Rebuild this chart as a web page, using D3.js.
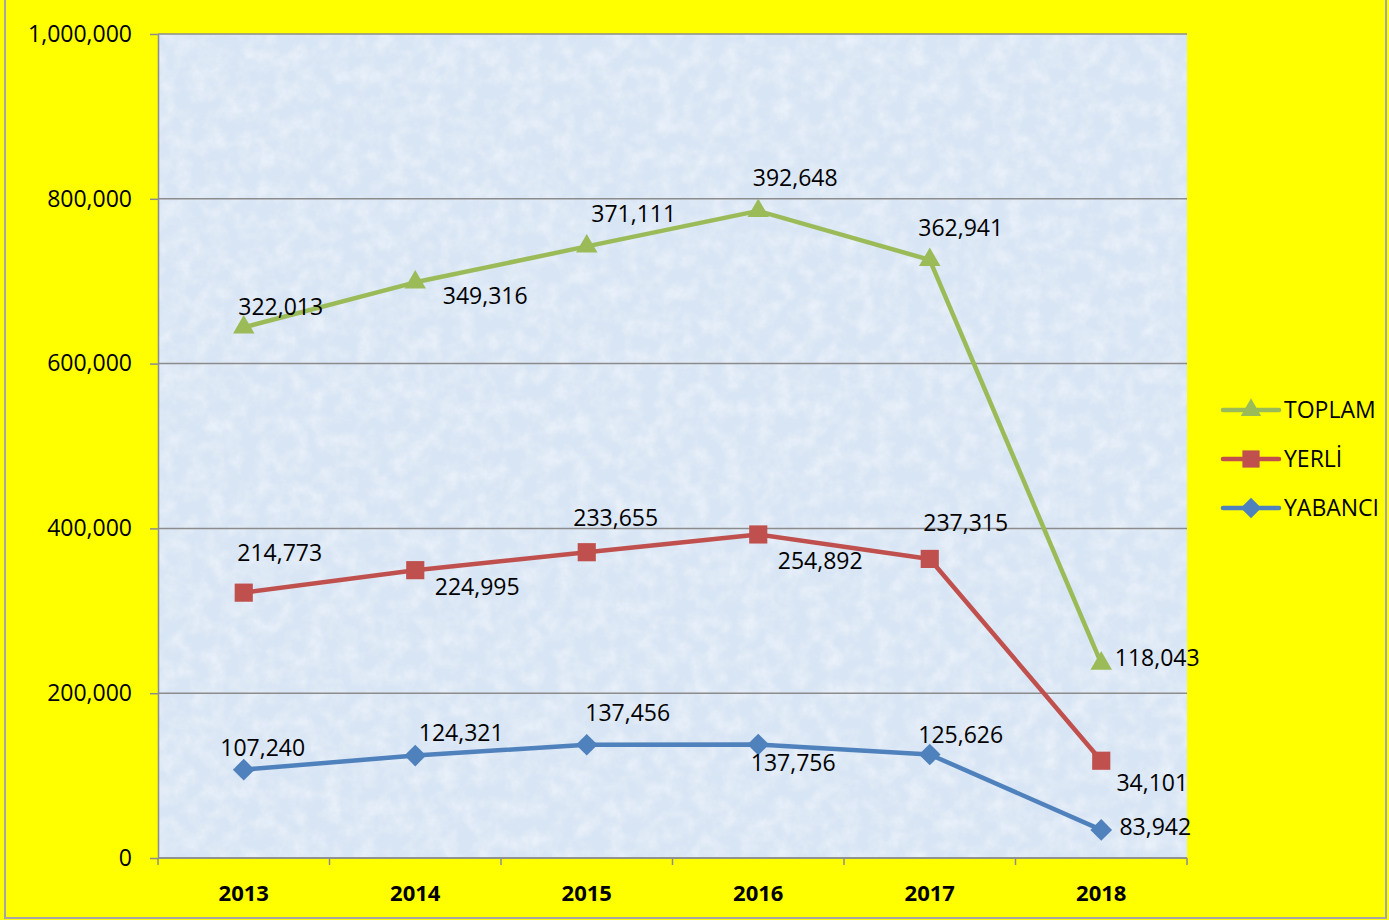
<!DOCTYPE html>
<html>
<head>
<meta charset="utf-8">
<script src="https://cdn.jsdelivr.net/npm/d3@7/dist/d3.min.js"></script>
<style>
  body { margin: 0; background: #ffff00; }
  svg { display: block; font-family: "Open Sans", sans-serif; }
</style>
</head>
<body>
<svg id="chart" width="1389" height="920"></svg>
<script>
const years = ['2013', '2014', '2015', '2016', '2017', '2018'];
// stacked series, bottom first
const yabanci = [107240, 124321, 137456, 137756, 125626, 34101];
const yerli = [214773, 224995, 233655, 254892, 237315, 83942];
const toplam = [322013, 349316, 371111, 392648, 362941, 118043];
const yTicks = [0, 200000, 400000, 600000, 800000, 1000000];

// label placement relative to the marker (centre of the text)
const labelDx = {
    yabanci: [19, 46, 41, 35, 31, 51],
    yerli: [36, 62, 29, 62, 36, 54],
    toplam: [37, 70, 47, 37, 31, 56]
};
const labelDy = {
    yabanci: [-22, -23, -32, 18, -20, -47],
    yerli: [-40, 17, -34, 26, -36, 66],
    toplam: [-20, 14, -32, -33, -32, -6]
};

const fmt = d3.format(',');
const svg = d3.select('#chart');
const margin = {top: 34, left: 158, right: 202, bottom: 62};
const width = 1389 - margin.left - margin.right;
const height = 920 - margin.top - margin.bottom;

const series = [
    {key: 'yabanci', name: 'YABANCI', values: yabanci, color: '#4f81bd', symbol: d3.symbolDiamond2, size: 300},
    {key: 'yerli', name: 'YERLİ', values: yerli, color: '#c0504d', symbol: d3.symbolSquare2, size: 420},
    {key: 'toplam', name: 'TOPLAM', values: toplam, color: '#9bbb59', symbol: d3.symbolTriangle2, size: 330}
];
// running sums for the stacked lines
let base = years.map(() => 0);
series.forEach(s => {
    s.stacked = s.values.map((v, i) => base[i] + v);
    base = s.stacked;
});

// outer frame
svg.append('rect')
    .attr('x', 5).attr('y', -2)
    .attr('width', 1381).attr('height', 920)
    .attr('fill', '#ffff00')
    .attr('stroke', '#a6a6a6').attr('stroke-width', 2);

const defs = svg.append('defs');
const filter = defs.append('filter').attr('id', 'paper')
    .attr('x', 0).attr('y', 0).attr('width', '100%').attr('height', '100%');
filter.append('feTurbulence')
    .attr('type', 'fractalNoise')
    .attr('baseFrequency', 0.06)
    .attr('numOctaves', 4)
    .attr('seed', 7);
filter.append('feColorMatrix')
    .attr('type', 'matrix')
    .attr('values', '0 0 0 0 0.95  0 0 0 0 0.97  0 0 0 0 1  0 0 0 1.3 -0.45');

const g = svg.append('g').attr('transform', `translate(${margin.left},${margin.top})`);

g.append('rect')
    .attr('width', width).attr('height', height)
    .attr('fill', '#d8e5f4');
g.append('rect')
    .attr('width', width).attr('height', height)
    .attr('filter', 'url(#paper)')
    .attr('opacity', 0.7);

const x = d3.scaleBand().domain(years).range([0, width]);
const y = d3.scaleLinear().domain([0, 1000000]).range([height, 0]);
const cx = d => x(d) + x.bandwidth() / 2;

// gridlines
g.append('g')
    .selectAll('line')
    .data(yTicks)
    .join('line')
    .attr('x1', 0).attr('x2', width)
    .attr('y1', d => y(d)).attr('y2', d => y(d))
    .attr('stroke', '#8c8c8c').attr('stroke-width', 1.5);

// y axis
const yAxis = g.append('g')
    .call(d3.axisLeft(y).tickValues(yTicks).tickFormat(fmt).tickSize(8).tickSizeOuter(0));
yAxis.select('.domain').attr('stroke', '#8c8c8c').attr('stroke-width', 1.5);
yAxis.selectAll('.tick line').attr('stroke', '#8c8c8c').attr('stroke-width', 1.5);
yAxis.selectAll('.tick text')
    .attr('x', -26)
    .attr('font-size', 23)
    .attr('font-family', '"Open Sans", sans-serif')
    .attr('fill', '#000');

// x axis with ticks between categories
const xAxis = g.append('g').attr('transform', `translate(0,${height})`);
xAxis.append('line')
    .attr('x1', 0).attr('x2', width)
    .attr('stroke', '#8c8c8c').attr('stroke-width', 1.5);
xAxis.selectAll('.tk')
    .data(d3.range(years.length + 1))
    .join('line')
    .attr('class', 'tk')
    .attr('x1', i => i * x.bandwidth()).attr('x2', i => i * x.bandwidth())
    .attr('y1', 0).attr('y2', 7)
    .attr('stroke', '#8c8c8c').attr('stroke-width', 1.5);
xAxis.selectAll('text')
    .data(years)
    .join('text')
    .attr('x', d => cx(d))
    .attr('y', 35)
    .attr('dy', '0.35em')
    .attr('text-anchor', 'middle')
    .attr('font-size', 22)
    .attr('font-weight', 'bold')
    .text(d => d);

const line = d3.line().x((d, i) => cx(years[i])).y(d => y(d));

// draw top series last so it sits above
series.slice().reverse().forEach(s => {
    g.append('path')
        .datum(s.stacked)
        .attr('fill', 'none')
        .attr('stroke', s.color)
        .attr('stroke-width', 4.5)
        .attr('stroke-linejoin', 'round')
        .attr('d', line);
    g.append('g')
        .selectAll('path')
        .data(s.stacked)
        .join('path')
        .attr('transform', (d, i) => `translate(${cx(years[i])},${y(d)})`)
        .attr('d', d3.symbol().type(s.symbol).size(s.size))
        .attr('fill', s.color);
});

// data labels
series.forEach(s => {
    g.append('g')
        .selectAll('text')
        .data(s.values)
        .join('text')
        .attr('x', (d, i) => cx(years[i]) + labelDx[s.key][i])
        .attr('y', (d, i) => y(s.stacked[i]) + labelDy[s.key][i])
        .attr('dy', '0.35em')
        .attr('text-anchor', 'middle')
        .attr('font-size', 23)
        .attr('fill', '#000')
        .text(d => fmt(d));
});

// legend
const legend = svg.append('g').attr('transform', 'translate(1223,410)');
series.slice().reverse().forEach((s, i) => {
    const row = legend.append('g').attr('transform', `translate(0,${i * 49})`);
    row.append('line')
        .attr('x1', 0).attr('x2', 56)
        .attr('stroke', s.color).attr('stroke-width', 4.5)
        .attr('stroke-linecap', 'round');
    row.append('path')
        .attr('transform', 'translate(28,0)')
        .attr('d', d3.symbol().type(s.symbol).size(s.size * 0.9))
        .attr('fill', s.color);
    row.append('text')
        .attr('x', 61)
        .attr('dy', '0.35em')
        .attr('font-size', 23)
        .text(s.name);
});
</script>
</body>
</html>
